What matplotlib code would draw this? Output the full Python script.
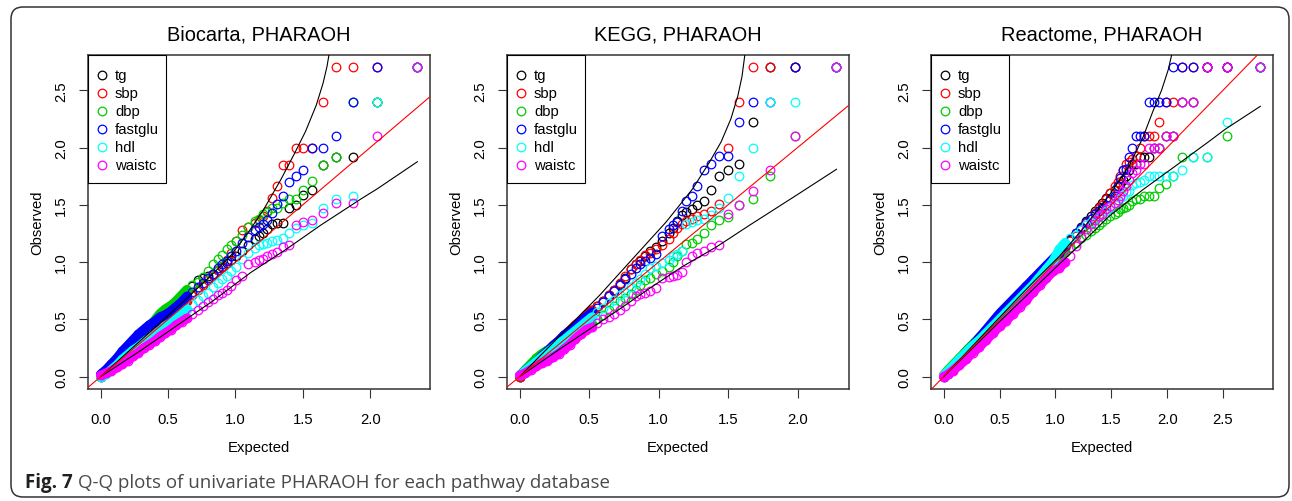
import matplotlib
matplotlib.use('Agg')
import matplotlib.pyplot as plt
from matplotlib.patches import FancyBboxPatch, Rectangle
from matplotlib.transforms import IdentityTransform

plt.rcParams['font.family'] = ['Liberation Sans', 'DejaVu Sans']

LABELS = ['tg', 'sbp', 'dbp', 'fastglu', 'hdl', 'waistc']
COLORS = ['#000000', '#FF0000', '#00CD00', '#0000FF', '#00FFFF', '#FF00FF']

# ---- Biocarta: expected -log10(p) by rank, observed per trait ----
BIO_EXP = [2.350, 2.049, 1.873, 1.748, 1.651, 1.572, 1.505, 1.447, 1.396, 1.350,
           1.309, 1.271, 1.236, 1.204, 1.174, 1.146, 1.095, 1.049, 1.008, 0.969,
           0.935, 0.903, 0.873, 0.832, 0.795, 0.760, 0.72, 0.68, 0.64, 0.60,
           0.56, 0.52, 0.48, 0.44, 0.40, 0.36, 0.32, 0.28, 0.24, 0.20,
           0.16, 0.12, 0.08, 0.04, 0.00]
BIO_TG = [2.70, 2.40, 1.92, 1.92, 1.85, 1.63, 1.59, 1.50, 1.47, 1.34,
          1.34, 1.33, 1.29, 1.25, 1.23, 1.20, 1.15, 1.10, 1.05, 1.02,
          0.99, 0.96, 0.93, 0.90, 0.88, 0.86, 0.84, 0.79, 0.74, 0.69,
          0.64, 0.59, 0.54, 0.50, 0.45, 0.41, 0.36, 0.31, 0.27, 0.22,
          0.18, 0.13, 0.09, 0.04, 0.00]
BIO_SBP = [2.70, 2.70, 2.70, 2.70, 2.40, 2.00, 2.00, 2.00, 1.85, 1.85,
           1.66, 1.56, 1.45, 1.40, 1.37, 1.34, 1.31, 1.28, 1.18, 1.08,
           1.02, 0.97, 0.93, 0.89, 0.84, 0.80, 0.76, 0.71, 0.66, 0.62,
           0.58, 0.54, 0.50, 0.46, 0.42, 0.38, 0.34, 0.30, 0.26, 0.21,
           0.17, 0.12, 0.08, 0.04, 0.01]
BIO_DBP = [2.70, 2.40, 2.40, 1.92, 1.85, 1.71, 1.63, 1.55, 1.55, 1.52,
           1.47, 1.47, 1.44, 1.42, 1.38, 1.36, 1.31, 1.24, 1.18, 1.15,
           1.11, 1.06, 1.03, 0.98, 0.92, 0.87, 0.83, 0.80, 0.76, 0.71,
           0.66, 0.62, 0.59, 0.55, 0.49, 0.44, 0.39, 0.34, 0.29, 0.25,
           0.20, 0.15, 0.10, 0.05, 0.01]
BIO_FASTGLU = [2.70, 2.70, 2.40, 2.10, 2.00, 2.00, 1.80, 1.75, 1.70, 1.58,
               1.51, 1.43, 1.37, 1.33, 1.31, 1.28, 1.22, 1.17, 1.10, 1.05,
               1.01, 0.98, 0.95, 0.90, 0.86, 0.82, 0.78, 0.74, 0.70, 0.65,
               0.61, 0.57, 0.54, 0.52, 0.48, 0.45, 0.41, 0.37, 0.32, 0.27,
               0.22, 0.16, 0.11, 0.06, 0.02]
BIO_HDL = [2.70, 2.40, 1.58, 1.55, 1.47, 1.34, 1.32, 1.30, 1.25, 1.21,
           1.19, 1.18, 1.17, 1.16, 1.15, 1.12, 1.08, 1.03, 0.96, 0.92,
           0.88, 0.85, 0.82, 0.78, 0.73, 0.70, 0.67, 0.63, 0.59, 0.55,
           0.51, 0.47, 0.44, 0.40, 0.36, 0.33, 0.30, 0.26, 0.23, 0.19,
           0.15, 0.10, 0.06, 0.02, 0.00]
BIO_WAISTC = [2.70, 2.10, 1.52, 1.52, 1.43, 1.37, 1.35, 1.32, 1.15, 1.13,
              1.09, 1.07, 1.05, 1.03, 1.02, 1.00, 0.98, 0.88, 0.84, 0.79,
              0.76, 0.73, 0.71, 0.68, 0.65, 0.62, 0.58, 0.55, 0.51, 0.48,
              0.45, 0.41, 0.38, 0.35, 0.31, 0.28, 0.25, 0.21, 0.18, 0.14,
              0.11, 0.08, 0.05, 0.03, 0.01]
BIO_UP_X = [0.0, 0.30, 0.60, 0.843, 0.967, 1.09, 1.21, 1.337, 1.435, 1.52, 1.60, 1.65, 1.68, 1.70]
BIO_UP_Y = [0.0, 0.32, 0.64, 0.91, 1.06, 1.25, 1.46, 1.72, 1.94, 2.14, 2.37, 2.56, 2.71, 2.85]
BIO_LO_X = [0.0, 0.30, 0.67, 0.82, 1.115, 1.387, 1.63, 1.93, 2.053, 2.35]
BIO_LO_Y = [0.0, 0.23, 0.53, 0.65, 0.91, 1.12, 1.32, 1.55, 1.64, 1.876]

# ---- KEGG ----
KEGG_EXP = [2.279, 1.978, 1.802, 1.677, 1.580, 1.501, 1.434, 1.376, 1.324, 1.279,
            1.237, 1.200, 1.165, 1.133, 1.103, 1.075, 1.024, 0.978, 0.937, 0.900,
            0.866, 0.835, 0.80, 0.76, 0.72, 0.68, 0.64, 0.60, 0.56, 0.52,
            0.48, 0.44, 0.40, 0.36, 0.32, 0.28, 0.24, 0.20, 0.16, 0.12,
            0.08, 0.04, 0.00]
KEGG_TG = [2.70, 2.70, 2.70, 2.22, 1.86, 1.80, 1.75, 1.63, 1.53, 1.50,
           1.46, 1.44, 1.41, 1.36, 1.30, 1.25, 1.18, 1.13, 1.10, 1.05,
           1.01, 0.98, 0.94, 0.86, 0.81, 0.76, 0.71, 0.66, 0.62, 0.57,
           0.53, 0.48, 0.44, 0.40, 0.35, 0.31, 0.26, 0.22, 0.17, 0.13,
           0.08, 0.04, 0.00]
KEGG_SBP = [2.70, 2.70, 2.70, 2.70, 2.40, 2.00, 1.51, 1.45, 1.42, 1.40,
            1.38, 1.36, 1.33, 1.30, 1.25, 1.20, 1.15, 1.11, 1.08, 1.06,
            1.02, 0.98, 0.94, 0.88, 0.82, 0.76, 0.71, 0.66, 0.62, 0.58,
            0.54, 0.49, 0.45, 0.40, 0.36, 0.31, 0.27, 0.22, 0.17, 0.13,
            0.08, 0.04, 0.00]
KEGG_DBP = [2.70, 2.10, 1.75, 1.55, 1.50, 1.39, 1.37, 1.32, 1.25, 1.20,
            1.17, 1.16, 1.10, 1.05, 1.00, 0.96, 0.92, 0.90, 0.86, 0.84,
            0.80, 0.76, 0.72, 0.69, 0.66, 0.62, 0.58, 0.54, 0.50, 0.46,
            0.43, 0.40, 0.37, 0.34, 0.31, 0.29, 0.26, 0.23, 0.20, 0.16,
            0.11, 0.06, 0.01]
KEGG_FASTGLU = [2.70, 2.70, 2.40, 2.40, 2.22, 1.93, 1.93, 1.86, 1.80, 1.66,
                1.58, 1.53, 1.45, 1.35, 1.32, 1.29, 1.23, 1.07, 1.04, 1.01,
                0.98, 0.95, 0.90, 0.85, 0.80, 0.75, 0.70, 0.65, 0.60, 0.56,
                0.52, 0.48, 0.44, 0.40, 0.36, 0.31, 0.27, 0.22, 0.18, 0.13,
                0.09, 0.05, 0.01]
KEGG_HDL = [2.70, 2.40, 2.40, 2.00, 1.75, 1.56, 1.47, 1.41, 1.38, 1.37,
            1.35, 1.33, 1.10, 1.07, 1.05, 1.02, 0.99, 0.97, 0.95, 0.90,
            0.85, 0.82, 0.78, 0.74, 0.71, 0.67, 0.64, 0.60, 0.56, 0.52,
            0.48, 0.44, 0.40, 0.36, 0.32, 0.29, 0.25, 0.21, 0.17, 0.13,
            0.09, 0.05, 0.01]
KEGG_WAISTC = [2.70, 2.10, 1.80, 1.62, 1.50, 1.42, 1.15, 1.13, 1.10, 1.08,
               1.05, 1.00, 0.91, 0.89, 0.88, 0.87, 0.86, 0.77, 0.75, 0.73,
               0.72, 0.70, 0.66, 0.62, 0.58, 0.55, 0.52, 0.50, 0.47, 0.43,
               0.41, 0.37, 0.33, 0.28, 0.24, 0.20, 0.17, 0.14, 0.12, 0.09,
               0.06, 0.03, 0.01]
KEGG_UP_X = [0.0, 0.30, 0.575, 0.814, 1.054, 1.245, 1.365, 1.45, 1.52, 1.57, 1.60, 1.625]
KEGG_UP_Y = [0.0, 0.37, 0.71, 1.03, 1.35, 1.64, 1.87, 2.05, 2.25, 2.45, 2.62, 2.85]
KEGG_LO_X = [0.0, 0.30, 0.72, 0.934, 1.17, 1.413, 1.652, 2.00, 2.28]
KEGG_LO_Y = [0.0, 0.25, 0.59, 0.77, 0.96, 1.13, 1.32, 1.59, 1.81]

# ---- Reactome ----
REACT_EXP = [2.834, 2.533, 2.357, 2.232, 2.135, 2.056, 1.989, 1.931, 1.880, 1.834,
             1.792, 1.755, 1.720, 1.688, 1.658, 1.630, 1.604, 1.579, 1.556, 1.533,
             1.492, 1.454, 1.419, 1.387, 1.357, 1.315, 1.278, 1.232, 1.181, 1.135,
             1.086, 1.034, 0.98, 0.92, 0.86, 0.80, 0.74, 0.68, 0.62, 0.56,
             0.50, 0.44, 0.38, 0.32, 0.26, 0.20, 0.14, 0.08, 0.04, 0.00]
REACT_TG = [2.70, 2.70, 2.70, 2.40, 2.40, 2.10, 2.10, 2.00, 2.00, 1.92,
            1.92, 1.92, 1.86, 1.86, 1.80, 1.75, 1.72, 1.68, 1.66, 1.63,
            1.60, 1.56, 1.52, 1.48, 1.45, 1.40, 1.36, 1.31, 1.25, 1.19,
            1.13, 1.07, 1.01, 0.95, 0.89, 0.82, 0.76, 0.70, 0.64, 0.58,
            0.52, 0.46, 0.40, 0.34, 0.28, 0.22, 0.15, 0.09, 0.05, 0.01]
REACT_SBP = [2.70, 2.70, 2.70, 2.70, 2.70, 2.40, 2.40, 2.22, 2.10, 2.10,
             2.10, 2.00, 1.93, 1.90, 1.87, 1.86, 1.80, 1.75, 1.70, 1.66,
             1.60, 1.55, 1.50, 1.47, 1.43, 1.38, 1.34, 1.29, 1.23, 1.18,
             1.12, 1.06, 1.00, 0.94, 0.88, 0.81, 0.75, 0.69, 0.63, 0.57,
             0.51, 0.45, 0.39, 0.33, 0.27, 0.21, 0.15, 0.09, 0.05, 0.01]
REACT_DBP = [2.70, 2.10, 1.92, 1.92, 1.92, 1.75, 1.68, 1.65, 1.58, 1.58,
             1.58, 1.55, 1.55, 1.53, 1.50, 1.48, 1.47, 1.46, 1.44, 1.42,
             1.40, 1.38, 1.35, 1.32, 1.30, 1.27, 1.24, 1.21, 1.17, 1.13,
             1.09, 1.04, 0.99, 0.93, 0.88, 0.82, 0.76, 0.70, 0.64, 0.58,
             0.52, 0.46, 0.40, 0.34, 0.28, 0.22, 0.16, 0.10, 0.06, 0.01]
REACT_FASTGLU = [2.70, 2.70, 2.70, 2.70, 2.70, 2.70, 2.40, 2.40, 2.40, 2.40,
                 2.10, 2.10, 2.10, 2.00, 1.92, 1.81, 1.80, 1.73, 1.66, 1.58,
                 1.55, 1.50, 1.47, 1.45, 1.42, 1.38, 1.35, 1.30, 1.25, 1.20,
                 1.14, 1.08, 1.03, 0.97, 0.91, 0.85, 0.79, 0.73, 0.67, 0.61,
                 0.55, 0.48, 0.41, 0.34, 0.27, 0.19, 0.12, 0.06, 0.02, 0.00]
REACT_HDL = [2.70, 2.22, 1.92, 1.92, 1.80, 1.75, 1.75, 1.75, 1.75, 1.75,
             1.72, 1.70, 1.69, 1.67, 1.62, 1.61, 1.58, 1.56, 1.54, 1.52,
             1.48, 1.45, 1.42, 1.40, 1.38, 1.35, 1.32, 1.28, 1.24, 1.21,
             1.17, 1.11, 1.01, 0.94, 0.87, 0.80, 0.74, 0.68, 0.62, 0.56,
             0.50, 0.44, 0.38, 0.32, 0.27, 0.21, 0.15, 0.09, 0.05, 0.01]
REACT_WAISTC = [2.70, 2.70, 2.70, 2.40, 2.40, 2.10, 2.10, 2.00, 2.00, 2.00,
                1.86, 1.86, 1.80, 1.78, 1.72, 1.66, 1.62, 1.58, 1.54, 1.52,
                1.49, 1.46, 1.42, 1.40, 1.37, 1.33, 1.29, 1.22, 1.14, 1.05,
                1.00, 0.95, 0.92, 0.86, 0.80, 0.74, 0.67, 0.61, 0.55, 0.49,
                0.44, 0.38, 0.32, 0.26, 0.21, 0.15, 0.10, 0.05, 0.02, 0.00]
REACT_UP_X = [0.0, 0.30, 0.678, 0.827, 1.035, 1.27, 1.48, 1.66, 1.78, 1.87, 1.95, 2.01, 2.05]
REACT_UP_Y = [0.0, 0.31, 0.70, 0.85, 1.05, 1.32, 1.58, 1.84, 2.08, 2.31, 2.50, 2.68, 2.85]
REACT_LO_X = [0.0, 0.50, 1.00, 1.273, 1.48, 1.78, 2.076, 2.37, 2.52, 2.834]
REACT_LO_Y = [0.0, 0.48, 0.95, 1.20, 1.40, 1.63, 1.84, 2.05, 2.16, 2.36]

panels = [
    ('Biocarta, PHARAOH', BIO_EXP,
     [BIO_TG, BIO_SBP, BIO_DBP, BIO_FASTGLU, BIO_HDL, BIO_WAISTC],
     BIO_UP_X, BIO_UP_Y, BIO_LO_X, BIO_LO_Y, [0, 0.5, 1.0, 1.5, 2.0]),
    ('KEGG, PHARAOH', KEGG_EXP,
     [KEGG_TG, KEGG_SBP, KEGG_DBP, KEGG_FASTGLU, KEGG_HDL, KEGG_WAISTC],
     KEGG_UP_X, KEGG_UP_Y, KEGG_LO_X, KEGG_LO_Y, [0, 0.5, 1.0, 1.5, 2.0]),
    ('Reactome, PHARAOH', REACT_EXP,
     [REACT_TG, REACT_SBP, REACT_DBP, REACT_FASTGLU, REACT_HDL, REACT_WAISTC],
     REACT_UP_X, REACT_UP_Y, REACT_LO_X, REACT_LO_Y, [0, 0.5, 1.0, 1.5, 2.0, 2.5]),
]

# layout in pixels
W, H = 1292, 502
AX_LEFT = [88, 507, 931]
AX_W, AX_TOP, AX_BOT = 342, 56, 390
AX_H = AX_BOT - AX_TOP
Y_TICKS = [0, 0.5, 1.0, 1.5, 2.0, 2.5]
FS = 10.7
# below this expected value the circles overplot into a solid band
DENSE_MAX = [0.64, 0.52, 1.09]

fig = plt.figure(figsize=(W / 100, H / 100), dpi=100)

for i, (title, xs, obs, ux, uy, lx, ly, xticks) in enumerate(panels):
    left = AX_LEFT[i]
    ax = fig.add_axes([left / W, 1 - AX_BOT / H, AX_W / W, AX_H / H])
    xmax = xs[0]
    ax.set_xlim(-0.04 * xmax, 1.04 * xmax)
    ax.set_ylim(-0.108, 2.808)

    for ys, col in zip(obs, COLORS):
        dense = [(x, y) for x, y in zip(xs, ys) if x <= DENSE_MAX[i]]
        ax.plot([p[0] for p in dense], [p[1] for p in dense], color=col, lw=6.8,
                solid_capstyle='round', solid_joinstyle='round')
        ax.plot(xs, ys, ls='none', marker='o', ms=6.2, mew=0.9, mfc='none', mec=col)

    ax.plot(ux, uy, color='black', lw=0.8, zorder=4)
    ax.plot(lx, ly, color='black', lw=0.8, zorder=4)
    ax.axline((0, 0), slope=1, color='#FF0000', lw=0.8, zorder=4)

    ax.set_xticks(xticks)
    ax.set_xticklabels([f'{t:.1f}' for t in xticks])
    ax.set_yticks(Y_TICKS)
    ax.set_yticklabels([f'{t:.1f}' for t in Y_TICKS], rotation=90, va='center')
    ax.tick_params(direction='out', length=6.8, width=0.8, labelsize=FS, color='#333333')
    ax.tick_params(axis='x', pad=9.5)
    ax.tick_params(axis='y', pad=7.5)
    for s in ax.spines.values():
        s.set_color('#333333')
        s.set_linewidth(1.1)

    ax.text(0.5, 1 + 15.3 / AX_H, title, transform=ax.transAxes, ha='center',
            va='baseline', fontsize=14.4)
    fig.text((left + AX_W / 2) / W, 1 - 452.3 / H, 'Expected', ha='center',
             va='baseline', fontsize=FS)
    fig.text((left - 50.7) / W, 1 - 223 / H, 'Observed', ha='center', va='center',
             rotation=90, fontsize=FS)

    # legend box (R style, top-left corner)
    ax.add_patch(Rectangle((0, 1 - 128 / AX_H), 78 / AX_W, 128 / AX_H, transform=ax.transAxes,
                           facecolor='white', edgecolor='black', lw=0.8, zorder=5))
    for k, (lab, col) in enumerate(zip(LABELS, COLORS)):
        yy = 1 - (20 + 18 * k) / AX_H
        ax.plot([13.7 / AX_W], [yy], transform=ax.transAxes, ls='none', marker='o',
                ms=6.2, mew=0.9, mfc='none', mec=col, zorder=6)
        ax.text(27 / AX_W, yy, lab, transform=ax.transAxes, va='center', ha='left',
                fontsize=FS, zorder=6)

# outer rounded frame
frame = FancyBboxPatch((11, 4), 1278, 490, boxstyle='round,pad=0,rounding_size=12',
                       transform=IdentityTransform(), facecolor='none',
                       edgecolor='#333333', lw=1.1)
fig.patches.append(frame)

# caption
fig.canvas.draw()
rend = fig.canvas.get_renderer()
t1 = fig.text(25 / W, 1 - 488.5 / H, 'Fig. 7', fontfamily='Open Sans', fontweight='bold',
              fontsize=13.5, color='#231f20', va='baseline')
bb = t1.get_window_extent(renderer=rend)
fig.text((bb.x1 + 5) / W, 1 - 488.5 / H, 'Q-Q plots of univariate PHARAOH for each pathway database',
         fontfamily='Open Sans', fontsize=13.5, color='#4a4a4a', va='baseline')

fig.savefig('out.png', dpi=100)
